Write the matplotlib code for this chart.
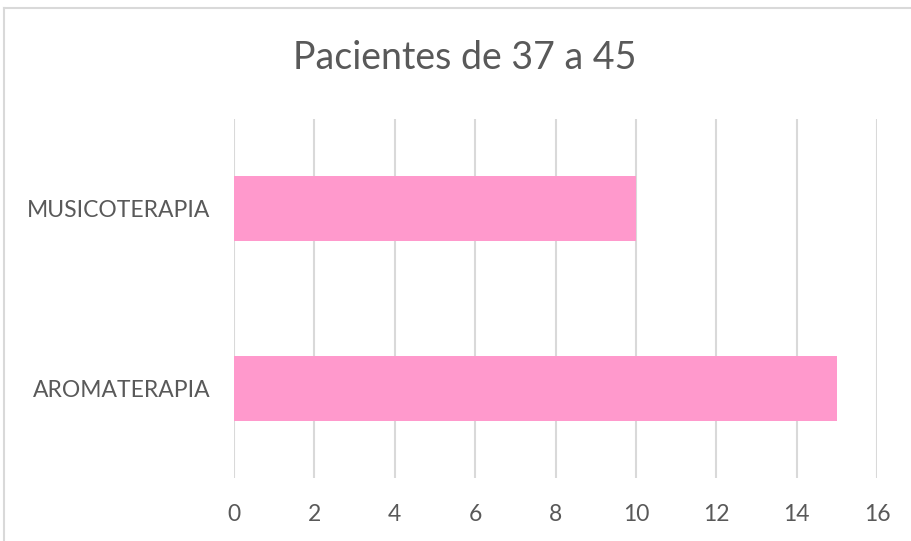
import matplotlib.pyplot as plt
from matplotlib.lines import Line2D

categorias = ['AROMATERAPIA', 'MUSICOTERAPIA']
pacientes = [15, 10]
xticks = [0, 2, 4, 6, 8, 10, 12, 14, 16]

plt.rcParams['font.family'] = ['Lato', 'DejaVu Sans']

W, H = 912, 541
fig = plt.figure(figsize=(W / 100, H / 100), dpi=100)
ax = fig.add_axes([234 / W, 1 - 478 / H, (877 - 234) / W, (478 - 119) / H])

ax.barh(range(len(categorias)), pacientes, height=0.36, color='#FF99CC', zorder=3)
ax.set_ylim(-0.5, len(categorias) - 0.5)
ax.set_xlim(0, 16)
ax.set_xticks(xticks)
ax.set_yticks(range(len(categorias)))
ax.set_yticklabels(categorias)

ax.grid(axis='x', color='#D9D9D9', linewidth=1.5, zorder=0)
ax.grid(axis='y', visible=False)
for s in ax.spines.values():
    s.set_visible(False)
ax.tick_params(axis='x', length=0, pad=19, labelsize=16.5, labelcolor='#595959')
ax.tick_params(axis='y', length=0, pad=17, labelsize=16.5, labelcolor='#595959')

fig.text(465 / W, 1 - 58 / H, 'Pacientes de 37 a 45', ha='center', va='center',
         fontsize=27, color='#595959')

# marco del grafico (solo se ven borde izquierdo y superior)
fig.add_artist(Line2D([4 / W, 4 / W], [0, 1 - 8 / H], transform=fig.transFigure,
                      color='#D9D9D9', linewidth=1.5))
fig.add_artist(Line2D([4 / W, 1], [1 - 8 / H, 1 - 8 / H], transform=fig.transFigure,
                      color='#D9D9D9', linewidth=1.5))

fig.savefig('out.png', dpi=100)
